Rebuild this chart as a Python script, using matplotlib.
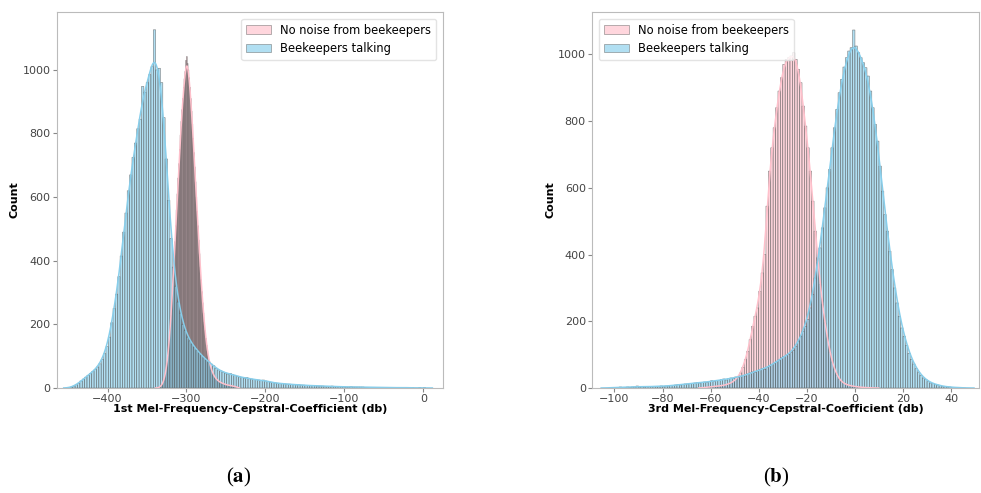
import numpy as np
import matplotlib
matplotlib.use("Agg")
import matplotlib.pyplot as plt

# ---- panel (a): 1st MFCC, counts per bin ----
a_quiet_start, a_quiet_width = -336.0, 1.0
a_quiet = [1, 2, 3, 5, 8, 12, 17, 24, 33, 45,
           60, 78, 100, 125, 155, 190, 228, 270, 315, 362,
           410, 460, 510, 560, 610, 660, 705, 750, 795, 838,
           875, 910, 945, 972, 995, 1030, 1042, 1020, 1000, 975,
           945, 910, 870, 830, 785, 740, 695, 648, 600, 555,
           510, 465, 422, 380, 340, 303, 268, 236, 207, 180,
           156, 135, 117, 101, 88, 76, 66, 58, 51, 45,
           40, 36, 32, 29, 26, 24, 22, 20, 18, 17,
           16, 15, 14, 13, 12, 11, 10, 10, 9, 9,
           8, 8, 7, 7, 6, 6, 5, 5, 5, 4]

a_talk_start, a_talk_width = -447.0, 3.0
a_talk = [3, 6, 10, 15, 22, 28, 34, 40, 46, 52,
          58, 66, 76, 90, 108, 130, 160, 205, 250, 295,
          350, 415, 490, 550, 620, 670, 725, 770, 815, 845,
          948, 930, 960, 985, 1010, 1126, 1000, 1005, 960, 850,
          720, 590, 470, 380, 320, 270, 235, 200, 180, 160,
          148, 138, 128, 118, 110, 102, 95, 88, 82, 75,
          70, 62, 57, 54, 50, 47, 44, 46, 42, 40,
          37, 35, 33, 31, 33, 29, 28, 27, 26, 25,
          24, 25, 22, 21, 18, 17, 16, 15, 14, 14,
          13, 12, 12, 11, 11, 10, 10, 9, 9, 8,
          8, 7, 8, 7, 6, 6, 6, 5, 5, 5,
          6, 5, 4, 4, 4, 4, 3, 3, 4, 3,
          3, 3, 3, 3, 2, 2, 2, 2, 2, 2,
          2, 1, 2, 1, 1, 1, 1, 1, 1, 1,
          2, 1, 1, 0, 1, 0, 0, 1, 0, 1]

# ---- panel (b): 3rd MFCC ----
b_quiet_start, b_quiet_width = -63.0, 1.0
b_quiet = [2, 3, 3, 4, 4, 5, 6, 7, 8, 10,
           12, 15, 19, 25, 33, 45, 62, 85, 110, 145,
           185, 215, 240, 290, 345, 400, 545, 650, 720, 780,
           840, 890, 930, 970, 985, 990, 995, 1005, 985, 955,
           915, 845, 785, 720, 650, 560, 470, 390, 310, 250,
           195, 150, 108, 78, 55, 38, 26, 18, 13, 10,
           8, 6, 5, 4, 3, 2, 2, 1, 1, 1, 0]

b_talk_start, b_talk_width = -102.0, 1.0
b_talk = [1, 2, 1, 2, 3, 2, 2, 3, 2, 3, 3, 6,
          3, 4, 3, 4, 4, 5, 4, 5, 5, 6,
          5, 6, 6, 7, 8, 9, 10, 9, 11, 12,
          12, 14, 13, 15, 16, 15, 17, 18, 17, 19,
          22, 20, 23, 22, 25, 27, 24, 28, 30, 29,
          33, 32, 35, 38, 36, 42, 45, 48, 47, 52,
          55, 58, 56, 62, 66, 70, 74, 80, 84,
          90, 94, 97, 100, 106, 113, 125, 140, 155, 170,
          185, 205, 240, 280, 330, 375, 420, 480, 540, 600,
          655, 720, 780, 835, 885, 925, 962, 990, 1010, 1020,
          1073, 1025, 1005, 990, 975, 960, 935, 890, 840, 790,
          740, 665, 590, 520, 470, 410, 355, 300, 255, 215,
          180, 155, 128, 104, 86, 72, 58, 46, 38, 30,
          25, 19, 15, 13, 11, 9, 7, 5, 4, 3,
          3, 2, 2, 1, 1, 1, 0]

labels = ["No noise from beekeepers", "Beekeepers talking"]
colors = ["pink", "skyblue"]
xlabels = ["1st Mel-Frequency-Cepstral-Coefficient (db)",
           "3rd Mel-Frequency-Cepstral-Coefficient (db)"]


def hist_with_kde(ax, start, width, counts, color, label, bw):
    counts = np.asarray(counts, dtype=float)
    centers = start + width * (np.arange(len(counts)) + 0.5)
    ax.bar(centers, counts, width=width, color=color, alpha=0.65,
           edgecolor="#505050", linewidth=0.45, label=label, snap=False)
    # smoothed curve scaled to counts per bin (like kde=True)
    xs = np.linspace(centers[0] - 2 * bw, centers[-1] + 2 * bw, 600)
    k = np.exp(-0.5 * ((xs[:, None] - centers[None, :]) / bw) ** 2)
    k /= np.sqrt(2 * np.pi) * bw
    ax.plot(xs, (k * counts).sum(axis=1) * width, color=color, lw=1.1)


plt.rcParams["font.family"] = "DejaVu Sans"
plt.rcParams["mathtext.fontset"] = "stix"
fig = plt.figure(figsize=(9.81, 4.93), dpi=100)
ax1 = fig.add_axes([0.0581, 0.213, 0.3935, 0.7627])
ax2 = fig.add_axes([0.6035, 0.213, 0.3945, 0.7627])

hist_with_kde(ax1, a_quiet_start, a_quiet_width, a_quiet, colors[0], labels[0], 1.8)
hist_with_kde(ax1, a_talk_start, a_talk_width, a_talk, colors[1], labels[1], 5.0)
hist_with_kde(ax2, b_quiet_start, b_quiet_width, b_quiet, colors[0], labels[0], 1.2)
hist_with_kde(ax2, b_talk_start, b_talk_width, b_talk, colors[1], labels[1], 2.0)

for ax, xl, loc in [(ax1, xlabels[0], "upper right"), (ax2, xlabels[1], "upper left")]:
    ax.set_xlabel(xl, fontsize=8, fontweight="bold", labelpad=0)
    ax.set_ylabel("Count", fontsize=8, fontweight="bold", labelpad=2)
    ax.tick_params(labelsize=8, length=3, color="#888888", labelcolor="#444444", pad=1.5)
    for s in ax.spines.values():
        s.set_color("#bbbbbb")
    ax.legend(loc=loc, fontsize=8.3, frameon=True, edgecolor="#dddddd",
              handlelength=2.2, borderaxespad=0.6)

ax1.set_xlim(-464, 25)
ax1.set_ylim(0, 1182)
ax1.set_xticks([-400, -300, -200, -100, 0])
ax1.set_yticks([0, 200, 400, 600, 800, 1000])
ax2.set_xlim(-109.3, 51.6)
ax2.set_ylim(0, 1127)
ax2.set_xticks([-100, -80, -60, -40, -20, 0, 20, 40])
ax2.set_yticks([0, 200, 400, 600, 800, 1000])

fig.text(0.2436, 0.022, r"($\mathbf{a}$)", fontsize=15, ha="center", family="Liberation Serif")
fig.text(0.791, 0.022, r"($\mathbf{b}$)", fontsize=15, ha="center", family="Liberation Serif")

fig.savefig("out.png", dpi=100)
